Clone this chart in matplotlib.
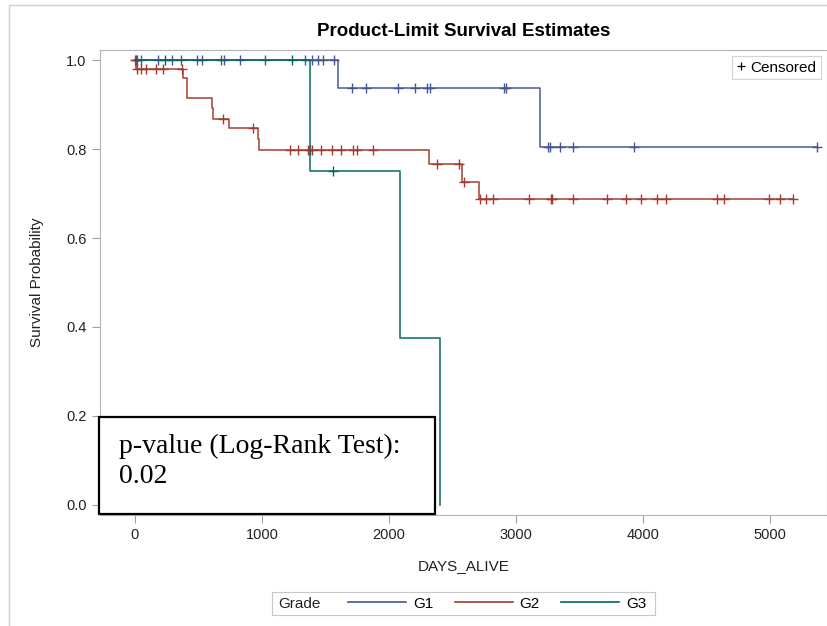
import numpy as np
import matplotlib
matplotlib.use("Agg")
import matplotlib.pyplot as plt
from matplotlib.lines import Line2D
from matplotlib.patches import Rectangle

plt.rcParams["font.family"] = ["Liberation Sans", "DejaVu Sans"]

groups = ["G1", "G2", "G3"]
colors = ["#445694", "#A23A2E", "#01665E"]

# event times (days) and survival level right after each event
g1_event_days = [1602, 3191]
g1_surv = [0.9375, 0.8036]
g1_end = 5377
g1_censor_days = [6, 18, 47, 179, 294, 362, 489, 526, 675, 699, 825, 1022,
                  1340, 1397, 1442, 1481, 1566, 1708, 1818, 2075, 2209, 2301,
                  2325, 2908, 2924, 3257, 3270, 3349, 3449, 3932, 5377]

g2_event_days = [10, 381, 412, 607, 617, 741, 967, 977, 2319, 2577, 2711]
g2_surv = [0.980, 0.959, 0.915, 0.893, 0.868, 0.848, 0.822, 0.798, 0.766,
           0.725, 0.687]
g2_end = 5183
g2_censor_days = [3, 18, 50, 84, 165, 218, 368, 691, 932, 1221, 1282, 1366,
                  1379, 1397, 1463, 1555, 1623, 1720, 1752, 1873, 2382, 2556,
                  2595, 2719, 2764, 2824, 3105, 3278, 3286, 3449, 3717, 3869,
                  3985, 4116, 4187, 4586, 4641, 4998, 5083, 5183]

g3_event_days = [1379, 2088, 2404]
g3_surv = [0.75, 0.375, 0.0]
g3_end = 2404
g3_censor_days = [236, 1235, 1563]

series = [
    (g1_event_days, g1_surv, g1_end, g1_censor_days),
    (g2_event_days, g2_surv, g2_end, g2_censor_days),
    (g3_event_days, g3_surv, g3_end, g3_censor_days),
]

W, H = 828, 626
fig = plt.figure(figsize=(W / 100, H / 100), dpi=100)
ax = fig.add_axes([99.7 / W, 1 - 515 / H, (827.3 - 99.7) / W, (515 - 50) / H])

# thin outer frame of the original output (only top and left edges show)
fig.patches.append(Rectangle((9 / W, -0.1), 1, 1.1 - 5 / H,
                             transform=fig.transFigure, fill=False,
                             edgecolor="#d0d0d0", lw=1.0))

for (ev, sv, end, cens), col in zip(series, colors):
    xs = [0] + list(ev)
    ys = [1.0] + list(sv)
    if end > ev[-1]:
        xs.append(end)
        ys.append(sv[-1])
    ax.step(xs, ys, where="post", color=col, lw=1.2, alpha=0.9)
    levels = np.array([1.0] + list(sv))
    idx = np.searchsorted(ev, cens, side="right")
    ax.plot(cens, levels[idx], linestyle="none", marker="+", color=col,
            markersize=7, mew=1.0)

ax.set_xlim(-278, 5455)
ax.set_ylim(-0.0225, 1.0225)
ax.set_xticks([0, 1000, 2000, 3000, 4000, 5000])
ax.set_yticks([0.0, 0.2, 0.4, 0.6, 0.8, 1.0])
ax.set_yticklabels([f"{v:.1f}" for v in [0.0, 0.2, 0.4, 0.6, 0.8, 1.0]])
for s in ax.spines.values():
    s.set_color("#b4b4b4")
ax.tick_params(colors="#a0a0a0", labelcolor="#222222", labelsize=10.5,
               length=6, width=0.8)

ax.set_xlabel("DAYS_ALIVE", fontsize=11, color="#222222", labelpad=12)
ax.set_ylabel("Survival Probability", fontsize=11, color="#222222", labelpad=16)
ax.set_title("Product-Limit Survival Estimates", fontsize=13.5,
             fontweight="bold", pad=10)

# censored legend inside the plot
cens_handle = Line2D([], [], linestyle="none", marker="+", color="black",
                     markersize=6, mew=0.9)
leg1 = ax.legend([cens_handle], ["Censored"], loc="upper right",
                 fontsize=11, frameon=True, fancybox=False,
                 handlelength=0.6, handletextpad=0.3, borderpad=0.3,
                 borderaxespad=0.4)
leg1.get_frame().set_edgecolor("#c8c8c8")
leg1.get_frame().set_linewidth(0.8)

# group legend below the plot
handles = [Line2D([], [], color=c, lw=1.2) for c in colors]
fig.legend(handles, groups, loc="center left", ncol=3, frameon=False,
           bbox_to_anchor=(348 / W, 1 - 603.5 / H), fontsize=11,
           handlelength=3.8, handletextpad=0.45, columnspacing=1.4,
           borderpad=0.0, borderaxespad=0.0)
fig.text(278 / W, 1 - 603.5 / H, "Grade", fontsize=11, va="center",
         ha="left", color="#222222")
fig.patches.append(Rectangle((272 / W, 1 - 615 / H), (655 - 272) / W, 23 / H,
                             transform=fig.transFigure, fill=False,
                             edgecolor="#c8c8c8", lw=0.8))

# p-value annotation box
fig.patches.append(Rectangle((99 / W, 1 - 513.5 / H), (435 - 99) / W,
                             (513.5 - 416.5) / H, transform=fig.transFigure,
                             facecolor="white", edgecolor="black", lw=1.6,
                             zorder=5))
fig.text(119 / W, 1 - 453 / H, "p-value (Log-Rank Test):", fontsize=20,
         family="Liberation Serif", va="baseline", zorder=6)
fig.text(119 / W, 1 - 483 / H, "0.02", fontsize=20,
         family="Liberation Serif", va="baseline", zorder=6)

fig.savefig("out.png", dpi=100)
